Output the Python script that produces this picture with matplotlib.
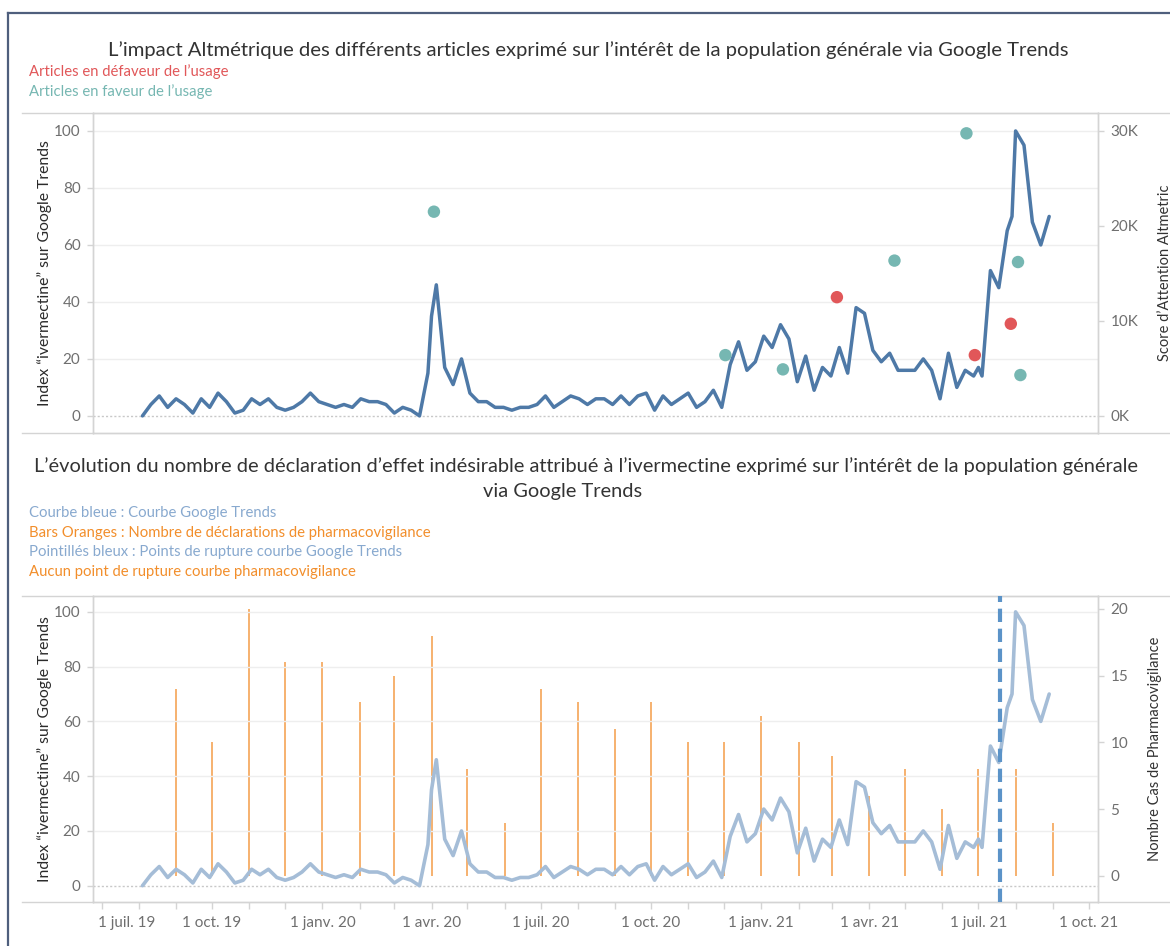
import matplotlib
matplotlib.use('Agg')
import matplotlib.pyplot as plt
import matplotlib.dates as mdates
import matplotlib.transforms as mtransforms
from matplotlib.ticker import FixedLocator, FuncFormatter
from matplotlib.lines import Line2D
import numpy as np
import pandas as pd

plt.rcParams['font.family'] = ['Lato', 'DejaVu Sans']

# ---------------- data ----------------
week_start = '2019-08-04'
trends = [0, 4, 7, 3, 6, 4, 1, 6, 3, 8, 5, 1, 2, 6, 4, 6, 3, 2, 3, 5,
          8, 5, 4, 3, 4, 3, 6, 5, 5, 4, 1, 3, 2, 0, 15, 46, 17,
          11, 20, 8, 5, 5, 3, 3, 2, 3, 3, 4, 7, 3, 5, 7, 6, 4, 6, 6, 4,
          7, 4, 7, 8, 2, 7, 4, 6, 8, 3, 5, 9, 3, 18, 26, 16,
          19, 28, 24, 32, 27, 12, 21, 9, 17, 14, 24, 15, 38, 36, 23, 19,
          22, 16, 16, 16, 20, 16, 6, 22, 10, 16, 14, 14, 51, 45, 65, 100,
          95, 68, 60, 70]
extra_dates = ['2020-04-01', '2021-07-01', '2021-07-29']
extra_values = [35, 17, 70]

against_dates = ['2021-03-05', '2021-06-28', '2021-07-28']
against_scores = [12500, 6400, 9700]
favour_dates = ['2020-04-03', '2020-12-02', '2021-01-19', '2021-04-22',
                '2021-06-21', '2021-08-03', '2021-08-05']
favour_scores = [21500, 6400, 4900, 16350, 29750, 16200, 4300]

pv_start = '2019-09-01'
pv_counts = [14, 10, 20, 16, 16, 13, 15, 18, 8, 4, 14, 13, 11, 13, 10, 10,
             12, 10, 9, 6, 8, 5, 8, 8, 4]
breakpoint_date = '2021-07-19'

major_tick_labels = ['1 juil. 19', '1 oct. 19', '1 janv. 20', '1 avr. 20',
                     '1 juil. 20', '1 oct. 20', '1 janv. 21', '1 avr. 21',
                     '1 juil. 21', '1 oct. 21']

# ---------------- prep ----------------
wdates = pd.date_range(week_start, periods=len(trends), freq='7D')
s = pd.Series(trends, index=wdates)
s = pd.concat([s, pd.Series(extra_values, index=pd.to_datetime(extra_dates))]).sort_index()
pv_dates = pd.date_range(pv_start, periods=len(pv_counts), freq='MS')

W, H = 1170, 946
fig = plt.figure(figsize=(W / 100, H / 100), dpi=100)

def box(l, t, r, b):
    return [l / W, 1 - b / H, (r - l) / W, (b - t) / H]

x0 = mdates.date2num(pd.Timestamp('2019-07-01'))
xlim = (x0 - 7.25, x0 + 830.7)
grid_c = '#eeeeee'
spine_c = '#d4d4d4'
tick_c = '#6f6f6f'
dark_blue = '#4e79a7'
light_blue = '#a5bdd7'
teal = '#76b7b2'
red = '#e15759'
orange = '#f28e2b'

def style_axes(ax, axr, ylim_l, ylim_r, lticks, rticks, rfmt):
    ax.set_xlim(xlim)
    ax.set_ylim(ylim_l)
    axr.set_ylim(ylim_r)
    ax.set_yticks(lticks)
    axr.set_yticks(rticks)
    axr.yaxis.set_major_formatter(FuncFormatter(rfmt))
    for a in (ax, axr):
        for sp in a.spines.values():
            sp.set_color(spine_c)
            sp.set_linewidth(1.0)
    ax.tick_params(axis='y', colors=spine_c, labelcolor=tick_c, labelsize=11,
                   length=4, width=1, pad=5)
    axr.tick_params(axis='y', colors=spine_c, labelcolor=tick_c, labelsize=11,
                    length=4, width=1, pad=5)
    for y in lticks[1:]:
        ax.axhline(y, color=grid_c, lw=1.0, zorder=0)
    ax.axhline(0, color='#c8c8c8', lw=1.0, ls=(0, (1.5, 1.5)), zorder=0)

label_c = '#2a2a2a'

# ---------------- top chart ----------------
ax1 = fig.add_axes(box(93, 113, 1098, 433))
ax1r = ax1.twinx()
style_axes(ax1, ax1r, (-6, 106.3), (-1800, 31890), [0, 20, 40, 60, 80, 100],
           [0, 10000, 20000, 30000], lambda v, p: f'{int(round(v / 1000))}K')
ax1.tick_params(axis='x', bottom=False, labelbottom=False)
ax1.plot(s.index, s.values, color=dark_blue, lw=2.5, solid_joinstyle='round',
         solid_capstyle='round', zorder=3)
ax1r.scatter(pd.to_datetime(favour_dates), favour_scores, s=80, color=teal,
             edgecolors='none', zorder=4)
ax1r.scatter(pd.to_datetime(against_dates), against_scores, s=80, color=red,
             edgecolors='none', zorder=4)
ax1.set_ylabel('Index “ivermectine” sur Google Trends', fontsize=11.3,
               color=label_c, labelpad=1)
ax1r.set_ylabel('Score d’Attention Altmetric', fontsize=10.5, color='#333333',
                labelpad=14)
ax1.set_zorder(ax1r.get_zorder() - 1)

# ---------------- bottom chart ----------------
ax2 = fig.add_axes(box(93, 596, 1098, 902))
ax2r = ax2.twinx()
style_axes(ax2, ax2r, (-5.95, 105.8), (-1.95, 20.97), [0, 20, 40, 60, 80, 100],
           [0, 5, 10, 15, 20], lambda v, p: f'{int(v)}')
ax2r.vlines(pv_dates, 0, pv_counts, color=orange, lw=1.2, alpha=0.8, zorder=2)
ax2.plot(s.index, s.values, color=light_blue, lw=2.6, solid_joinstyle='round',
         solid_capstyle='round', zorder=3)
ax2.axvline(pd.Timestamp(breakpoint_date), color='#5b93c8', lw=3,
            ls=(0, (3.2, 1.6)), zorder=5)
ax2.set_zorder(ax2r.get_zorder() + 1)
ax2.patch.set_visible(False)
ax2.set_ylabel('Index “ivermectine” sur Google Trends', fontsize=11.3,
               color=label_c, labelpad=1)
ax2r.set_ylabel('Nombre Cas de Pharmacovigilance', fontsize=10.5, color='#333333',
                labelpad=14)

major = pd.date_range('2019-07-01', periods=len(major_tick_labels), freq='3MS')
minor = pd.date_range('2019-07-01', '2021-10-01', freq='MS')
ax2.xaxis.set_major_locator(FixedLocator(mdates.date2num(major)))
ax2.xaxis.set_minor_locator(FixedLocator(mdates.date2num(minor)))
ax2.set_xticklabels(major_tick_labels)
ax2.tick_params(axis='x', which='both', colors=spine_c, labelcolor=tick_c,
                labelsize=11, length=5, width=1, pad=5)
first = ax2.get_xticklabels()[0]
first.set_ha('left')
first.set_transform(first.get_transform() +
                    mtransforms.ScaledTranslation(-4 / 100, 0, fig.dpi_scale_trans))

# ---------------- texts ----------------
title_c = '#333333'
fig.text(588 / W, 1 - 50 / H,
         'L’impact Altmétrique des différents articles exprimé sur l’intérêt de la population générale via Google Trends',
         ha='center', va='center', fontsize=14.6, color=title_c)
leg_fs = 10.7
fig.text(29 / W, 1 - 72 / H, 'Articles en défaveur de l’usage', ha='left', va='center',
         fontsize=leg_fs, color=red)
fig.text(29 / W, 1 - 92 / H, 'Articles en faveur de l’usage', ha='left', va='center',
         fontsize=leg_fs, color=teal)
fig.text(586 / W, 1 - 466 / H,
         'L’évolution du nombre de déclaration d’effet indésirable attribué à l’ivermectine exprimé sur l’intérêt de la population générale',
         ha='center', va='center', fontsize=14.4, color=title_c)
fig.text(563 / W, 1 - 491 / H, 'via Google Trends', ha='center', va='center',
         fontsize=14.4, color=title_c)
leg_blue = '#88a9cf'
fig.text(29 / W, 1 - 513 / H, 'Courbe bleue : Courbe Google Trends', ha='left',
         va='center', fontsize=leg_fs, color=leg_blue)
fig.text(29 / W, 1 - 533 / H, 'Bars Oranges : Nombre de déclarations de pharmacovigilance',
         ha='left', va='center', fontsize=leg_fs, color=orange)
fig.text(29 / W, 1 - 552 / H, 'Pointillés bleux : Points de rupture courbe Google Trends',
         ha='left', va='center', fontsize=leg_fs, color=leg_blue)
fig.text(29 / W, 1 - 572 / H, 'Aucun point de rupture courbe pharmacovigilance',
         ha='left', va='center', fontsize=leg_fs, color=orange)

# frame and separators
frame_c = '#4f5f7d'
fig.add_artist(Line2D([8 / W, 1], [1 - 13 / H, 1 - 13 / H], color=frame_c, lw=1.6))
fig.add_artist(Line2D([8 / W, 8 / W], [0, 1 - 13 / H], color=frame_c, lw=1.6))
for yy in (113, 433, 596, 902):
    fig.add_artist(Line2D([22 / W, 93 / W], [1 - yy / H, 1 - yy / H], color=spine_c, lw=1.0))
    fig.add_artist(Line2D([1098 / W, 1], [1 - yy / H, 1 - yy / H], color=spine_c, lw=1.0))

fig.savefig('out.png', dpi=100)
